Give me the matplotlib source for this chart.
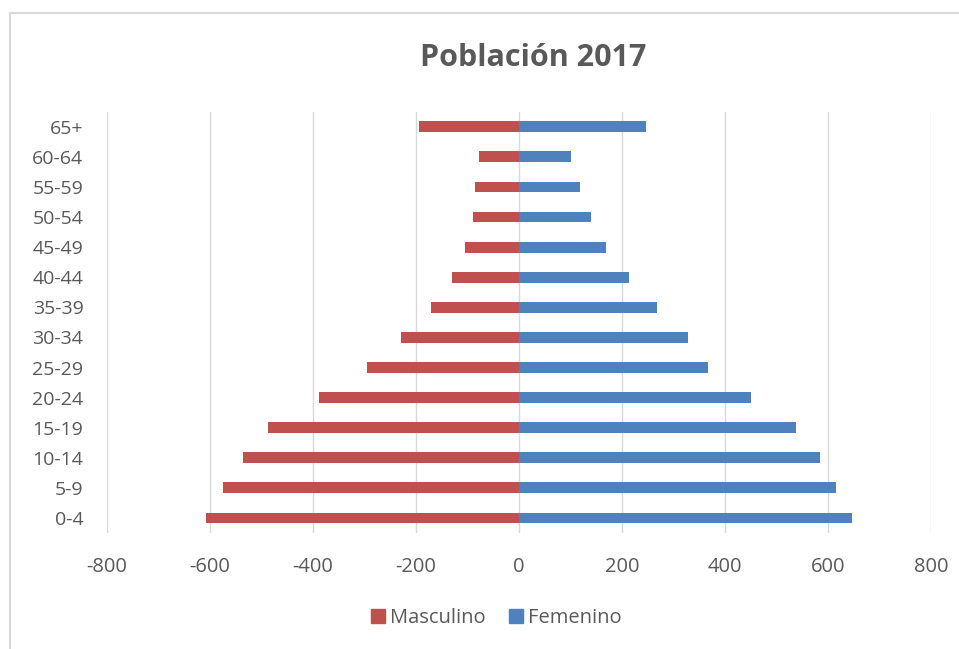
import matplotlib
matplotlib.use('Agg')
import matplotlib.pyplot as plt
from matplotlib.lines import Line2D

plt.rcParams['font.family'] = ['Open Sans', 'DejaVu Sans']

# datos
grupos = ['0-4', '5-9', '10-14', '15-19', '20-24', '25-29', '30-34',
          '35-39', '40-44', '45-49', '50-54', '55-59', '60-64', '65+']
masculino = [608, 575, 535, 487, 388, 295, 230, 171, 130, 105, 90, 85, 78, 194]
femenino = [647, 615, 584, 538, 450, 367, 329, 268, 213, 168, 139, 118, 100, 247]
ticks_x = [-800, -600, -400, -200, 0, 200, 400, 600, 800]

ROJO = '#C0504D'
AZUL = '#4F81BD'
GRIS_TXT = '#595959'
GRIS_LIN = '#D9D9D9'

fig = plt.figure(figsize=(9.59, 6.49), dpi=100)
ax = fig.add_axes([0.1116, 0.1787, 0.8592, 0.6492])

y = list(range(len(grupos)))
ax.barh(y, [-v for v in masculino], height=0.36, color=ROJO, label='Masculino', zorder=3)
ax.barh(y, femenino, height=0.36, color=AZUL, label='Femenino', zorder=3)

ax.set_xlim(-800, 800)
ax.set_ylim(-0.5, len(grupos) - 0.5)
ax.set_xticks(ticks_x)
ax.set_xticklabels([str(t) for t in ticks_x])
ax.set_yticks(y)
ax.set_yticklabels(grupos)
ax.tick_params(axis='x', length=0, pad=17, labelsize=14.5, labelcolor=GRIS_TXT)
ax.tick_params(axis='y', length=0, pad=17, labelsize=14, labelcolor=GRIS_TXT)

for t in ticks_x:
    ax.axvline(t, color=GRIS_LIN, linewidth=1, zorder=1)
for s in ax.spines.values():
    s.set_visible(False)

fig.text(0.556, 1 - 66 / 649, 'Población 2017', ha='center', va='baseline',
         fontsize=22, fontweight='bold', color=GRIS_TXT)

handles = [Line2D([], [], marker='s', linestyle='none', markersize=9.5, color=ROJO),
           Line2D([], [], marker='s', linestyle='none', markersize=9.5, color=AZUL)]
fig.legend(handles, ['Masculino', 'Femenino'], loc='center', bbox_to_anchor=(0.516, 0.047),
           ncol=2, frameon=False, fontsize=14.5, labelcolor=GRIS_TXT,
           handletextpad=0.1, columnspacing=1.0, handlelength=1.0)

# borde del area del grafico (solo izquierda y arriba visibles)
fig.add_artist(Line2D([10 / 959, 10 / 959], [0, 1 - 13 / 649], transform=fig.transFigure,
                      color=GRIS_LIN, linewidth=1.5))
fig.add_artist(Line2D([10 / 959, 1], [1 - 13 / 649, 1 - 13 / 649], transform=fig.transFigure,
                      color=GRIS_LIN, linewidth=1.5))

plt.savefig('out.png', dpi=100)
